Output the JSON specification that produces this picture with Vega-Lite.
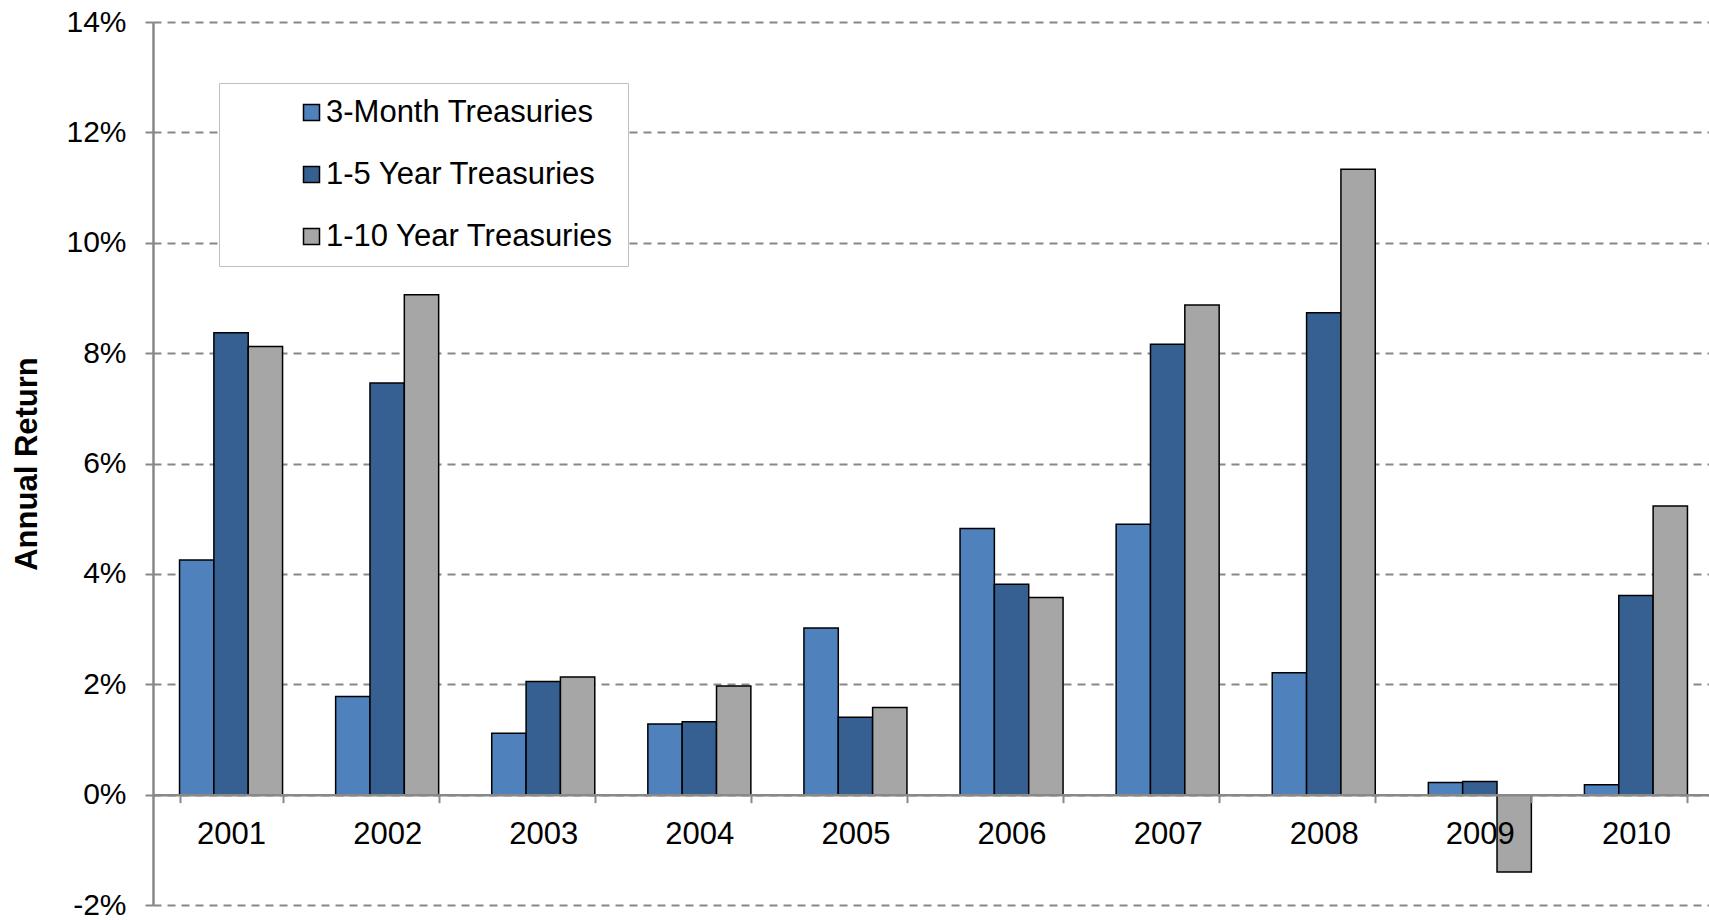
{
  "$schema": "https://vega.github.io/schema/vega-lite/v6.json",
  "width": 1561,
  "height": 883,
  "autosize": {"type": "none"},
  "padding": {"left": 153, "top": 22, "right": 0, "bottom": 15},
  "background": "white",
  "config": {
    "view": {"stroke": null},
    "font": "Liberation Sans"
  },
  "data": {
    "values": [
      {"year": "2001", "series": "3-Month Treasuries", "ret": 0.0425},
      {"year": "2001", "series": "1-5 Year Treasuries", "ret": 0.0837},
      {"year": "2001", "series": "1-10 Year Treasuries", "ret": 0.0812},
      {"year": "2002", "series": "3-Month Treasuries", "ret": 0.0178},
      {"year": "2002", "series": "1-5 Year Treasuries", "ret": 0.0746},
      {"year": "2002", "series": "1-10 Year Treasuries", "ret": 0.0906},
      {"year": "2003", "series": "3-Month Treasuries", "ret": 0.0111},
      {"year": "2003", "series": "1-5 Year Treasuries", "ret": 0.0205},
      {"year": "2003", "series": "1-10 Year Treasuries", "ret": 0.0213},
      {"year": "2004", "series": "3-Month Treasuries", "ret": 0.0128},
      {"year": "2004", "series": "1-5 Year Treasuries", "ret": 0.0132},
      {"year": "2004", "series": "1-10 Year Treasuries", "ret": 0.0197},
      {"year": "2005", "series": "3-Month Treasuries", "ret": 0.0302},
      {"year": "2005", "series": "1-5 Year Treasuries", "ret": 0.0140},
      {"year": "2005", "series": "1-10 Year Treasuries", "ret": 0.0158},
      {"year": "2006", "series": "3-Month Treasuries", "ret": 0.0482},
      {"year": "2006", "series": "1-5 Year Treasuries", "ret": 0.0381},
      {"year": "2006", "series": "1-10 Year Treasuries", "ret": 0.0357},
      {"year": "2007", "series": "3-Month Treasuries", "ret": 0.0490},
      {"year": "2007", "series": "1-5 Year Treasuries", "ret": 0.0816},
      {"year": "2007", "series": "1-10 Year Treasuries", "ret": 0.0887},
      {"year": "2008", "series": "3-Month Treasuries", "ret": 0.0221},
      {"year": "2008", "series": "1-5 Year Treasuries", "ret": 0.0873},
      {"year": "2008", "series": "1-10 Year Treasuries", "ret": 0.1133},
      {"year": "2009", "series": "3-Month Treasuries", "ret": 0.0022},
      {"year": "2009", "series": "1-5 Year Treasuries", "ret": 0.0024},
      {"year": "2009", "series": "1-10 Year Treasuries", "ret": -0.0140},
      {"year": "2010", "series": "3-Month Treasuries", "ret": 0.0018},
      {"year": "2010", "series": "1-5 Year Treasuries", "ret": 0.0361},
      {"year": "2010", "series": "1-10 Year Treasuries", "ret": 0.0523}
    ]
  },
  "mark": {"type": "bar", "stroke": "black", "strokeWidth": 1.5},
  "encoding": {
    "x": {
      "field": "year",
      "type": "nominal",
      "scale": {"paddingInner": 0.34, "paddingOuter": 0.17},
      "axis": {
        "title": null,
        "orient": "bottom",
        "offset": -110.375,
        "labelAngle": 0,
        "labelFontSize": 31,
        "labelColor": "black",
        "labelPadding": 17,
        "tickBand": "extent",
        "tickSize": 8,
        "tickColor": "#888888",
        "tickWidth": 2,
        "domainColor": "#888888",
        "domainWidth": 2.5,
        "grid": false,
        "zindex": 1
      }
    },
    "xOffset": {
      "field": "series",
      "type": "nominal",
      "sort": ["3-Month Treasuries", "1-5 Year Treasuries", "1-10 Year Treasuries"],
      "scale": {"paddingInner": 0, "paddingOuter": 0}
    },
    "y": {
      "field": "ret",
      "type": "quantitative",
      "scale": {"domain": [-0.02, 0.14], "nice": false, "zero": false},
      "axis": {
        "title": "Annual Return",
        "titleFontSize": 31,
        "titleFontWeight": "bold",
        "titleColor": "black",
        "titleAngle": -90,
        "titleAlign": "center",
        "titleBaseline": "middle",
        "titleX": -126,
        "titleY": 441.5,
        "format": ".0%",
        "labelExpr": "replace(datum.label, '\u2212', '-')",
        "values": [-0.02, 0, 0.02, 0.04, 0.06, 0.08, 0.1, 0.12, 0.14],
        "labelFontSize": 30,
        "labelColor": "black",
        "labelPadding": 19,
        "tickSize": 8,
        "tickColor": "#888888",
        "tickWidth": 2,
        "domainColor": "#888888",
        "domainWidth": 2.5,
        "grid": true,
        "gridColor": "#888888",
        "gridWidth": 2,
        "gridDash": [8, 6]
      }
    },
    "color": {
      "field": "series",
      "type": "nominal",
      "sort": ["3-Month Treasuries", "1-5 Year Treasuries", "1-10 Year Treasuries"],
      "scale": {
        "domain": ["3-Month Treasuries", "1-5 Year Treasuries", "1-10 Year Treasuries"],
        "range": ["#4F81BD", "#376092", "#A6A6A6"]
      },
      "legend": {
        "title": null,
        "orient": "none",
        "legendX": 66,
        "legendY": 61,
        "direction": "vertical",
        "fillColor": "white",
        "strokeColor": "#BFBFBF",
        "padding": 14,
        "symbolOffset": 63,
        "symbolType": "square",
        "symbolSize": 256,
        "symbolStrokeColor": "black",
        "symbolStrokeWidth": 1.5,
        "labelFontSize": 31,
        "labelColor": "black",
        "labelOffset": -1,
        "labelLimit": 800,
        "labelExpr": "datum.label + '\u2003\u2003'",
        "rowPadding": 30
      }
    }
  }
}
